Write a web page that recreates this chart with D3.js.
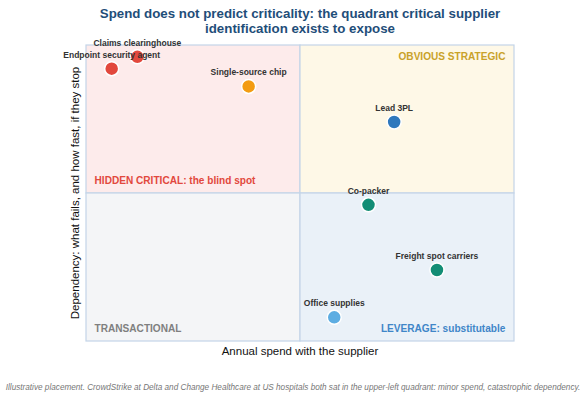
<!DOCTYPE html>
<html>
<head>
<meta charset="utf-8">
<script src="https://cdn.jsdelivr.net/npm/d3@7"></script>
<style>
  body { margin: 0; background: #fff; font-family: "Liberation Sans", Arial, sans-serif; }
</style>
</head>
<body>
<script>
// chart size
const w = 586;
const h = 400;
const margin = { top: 45, right: 72, bottom: 59, left: 86 };

// data
const suppliers = ["Claims clearinghouse", "Endpoint security agent", "Single-source chip", "Lead 3PL", "Co-packer", "Freight spot carriers", "Office supplies"];
const spend = [12, 6, 38, 72, 66, 82, 58];
const dependency = [96, 92, 86, 74, 46, 24, 8];
const colors = ["#e2483d", "#e2483d", "#f39c12", "#2f78bd", "#138d75", "#138d75", "#5dade2"];

const quadrantNames = ["HIDDEN CRITICAL: the blind spot", "OBVIOUS STRATEGIC", "TRANSACTIONAL", "LEVERAGE: substitutable"];
const quadrantFills = ["#fdebeb", "#fef8e7", "#f4f5f7", "#eaf1f8"];
const quadrantText = ["#e2483d", "#c9a22a", "#7f7f7f", "#3f86c8"];

const x = d3.scaleLinear().domain([0, 100]).range([margin.left, w - margin.right]);
const y = d3.scaleLinear().domain([0, 100]).range([h - margin.bottom, margin.top]);

const svg = d3.select("body").append("svg")
    .attr("width", w)
    .attr("height", h);

// quadrants: [x0, x1, y0, y1] in data units
const quads = [[0, 50, 50, 100], [50, 100, 50, 100], [0, 50, 0, 50], [50, 100, 0, 50]];

svg.selectAll("rect.quad")
    .data(quads)
    .enter()
    .append("rect")
    .attr("class", "quad")
    .attr("x", d => x(d[0]))
    .attr("y", d => y(d[3]))
    .attr("width", d => x(d[1]) - x(d[0]))
    .attr("height", d => y(d[2]) - y(d[3]))
    .attr("fill", (d, i) => quadrantFills[i])
    .attr("stroke", "#c3d4e8")
    .attr("stroke-width", 1.2);

// quadrant labels
const qlab = [
  { x: 2, y: 53, anchor: "start" },
  { x: 98, y: 95, anchor: "end" },
  { x: 2, y: 3, anchor: "start" },
  { x: 98, y: 3, anchor: "end" }
];
svg.selectAll("text.qlab")
    .data(qlab)
    .enter()
    .append("text")
    .attr("class", "qlab")
    .attr("x", d => x(d.x))
    .attr("y", d => y(d.y))
    .attr("text-anchor", d => d.anchor)
    .attr("font-size", 10.1)
    .attr("font-weight", "bold")
    .attr("fill", (d, i) => quadrantText[i])
    .text((d, i) => quadrantNames[i]);

// points
const pts = suppliers.map((s, i) => ({ name: s, sx: spend[i], dy: dependency[i], c: colors[i] }));

svg.selectAll("circle")
    .data(pts)
    .enter()
    .append("circle")
    .attr("cx", d => x(d.sx))
    .attr("cy", d => y(d.dy))
    .attr("r", 7)
    .attr("fill", d => d.c)
    .attr("stroke", "#fff")
    .attr("stroke-width", 1.5);

svg.selectAll("text.plab")
    .data(pts)
    .enter()
    .append("text")
    .attr("class", "plab")
    .attr("x", d => x(d.sx))
    .attr("y", d => y(d.dy) - 11)
    .attr("text-anchor", "middle")
    .attr("font-size", 8.5)
    .attr("font-weight", "bold")
    .attr("fill", "#333")
    .text(d => d.name);

// title
const title = svg.append("text")
    .attr("x", 300)
    .attr("y", 18)
    .attr("text-anchor", "middle")
    .attr("font-size", 13.3)
    .attr("font-weight", "bold")
    .attr("fill", "#1f4e79");
title.append("tspan").attr("x", 300).text("Spend does not predict criticality: the quadrant critical supplier");
title.append("tspan").attr("x", 300).attr("dy", 15).text("identification exists to expose");

// axis labels
svg.append("text")
    .attr("x", x(50))
    .attr("y", 355)
    .attr("text-anchor", "middle")
    .attr("font-size", 11.5)
    .attr("fill", "#111")
    .text("Annual spend with the supplier");

svg.append("text")
    .attr("transform", `translate(79,${y(50)}) rotate(-90)`)
    .attr("text-anchor", "middle")
    .attr("font-size", 11.5)
    .attr("fill", "#111")
    .text("Dependency: what fails, and how fast, if they stop");

// footnote
svg.append("text")
    .attr("x", 293)
    .attr("y", 390)
    .attr("text-anchor", "middle")
    .attr("font-size", 8.2)
    .attr("font-style", "italic")
    .attr("fill", "#777")
    .text("Illustrative placement. CrowdStrike at Delta and Change Healthcare at US hospitals both sat in the upper-left quadrant: minor spend, catastrophic dependency.");
</script>
</body>
</html>
